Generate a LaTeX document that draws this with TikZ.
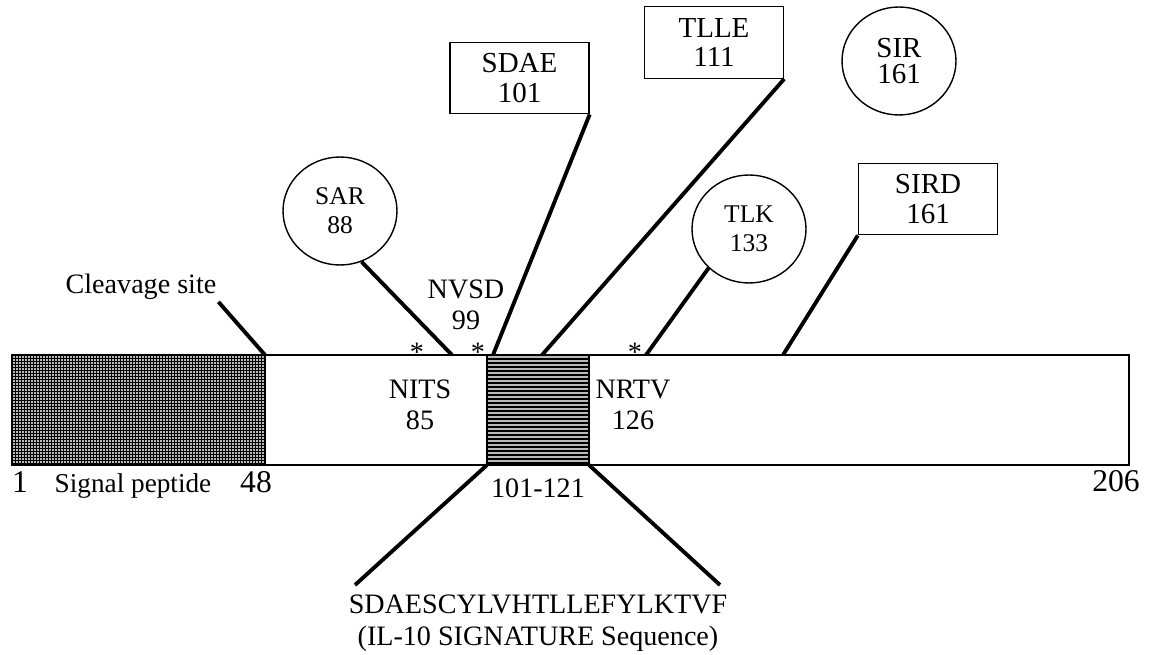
\documentclass[tikz,border=0pt]{standalone}
\usepackage{fontspec}
\setmainfont{Liberation Serif}
\usetikzlibrary{shapes.geometric}

\begin{document}
\begin{tikzpicture}[
  x=0.02cm, y=-0.02cm,
  site/.style={ellipse, draw=black, line width=0.8pt, minimum width=2.28cm,
    minimum height=2.16cm, inner sep=0pt, align=center,
    font=\fontsize{14.5}{16.5}\selectfont},
  motif/.style={rectangle, draw=black, line width=0.8pt, minimum width=2.78cm,
    minimum height=1.43cm, inner sep=0pt, align=center,
    font=\fontsize{16.5}{17}\selectfont},
  tag/.style={align=center, inner sep=1pt, font=\fontsize{16}{18}\selectfont},
  big/.style={inner sep=1pt, anchor=base, font=\fontsize{18}{20}\selectfont},
  link/.style={black, line width=2.2pt}]

  \useasboundingbox (0,0) rectangle (1150,655);

  % protein bar 1-206
  \filldraw[fill=white, draw=black, line width=0.9pt] (12,355) rectangle (1129,465);
  % signal peptide
  \fill[gray!55] (12,355) rectangle (265,465);
  \foreach \i in {15,18,...,263} \draw[line width=0.35pt] (\i,355)--(\i,465);
  \foreach \i in {358,361,...,463} \draw[line width=0.35pt] (12,\i)--(265,\i);
  \draw[line width=0.9pt] (12,355) rectangle (265,465);
  % IL-10 signature 101-121
  \fill[gray!55] (487,355) rectangle (589,465);
  \foreach \i in {359,363,...,463} \draw[line width=0.6pt] (487,\i)--(589,\i);
  \draw[line width=0.9pt] (487,355) rectangle (589,465);

  \coordinate (p48) at (265,355);
  \coordinate (p88) at (452,355);
  \coordinate (p101) at (493,355);
  \coordinate (p111) at (542,355);
  \coordinate (p133) at (646,355);
  \coordinate (p161) at (783,355);
  \coordinate (s101) at (487,465);
  \coordinate (s121) at (589,465);
  \coordinate (seqL) at (355,585);
  \coordinate (seqR) at (720,585);

  % sites above the bar
  \node[site] (sar) at (340,211) {SAR\\88};
  \node[site] (tlk) at (749,229) {TLK\\133};
  \node[site, font=\fontsize{16.5}{15}\selectfont] (sir) at (899,61) {SIR\\161};
  \node[motif] (sdae) at (519.5,78) {SDAE\\101};
  \node[motif] (tlle) at (714,42.5) {TLLE\\111};
  \node[motif] (sird) at (928,199) {SIRD\\161};

  \node[tag] (cleave) at (141,287) {Cleavage site};
  \node[tag] (nvsd) at (466,305) {NVSD\\99};
  \node[tag] (nits) at (420,405) {NITS\\85};
  \node[tag] (nrtv) at (633,405) {NRTV\\126};
  \node[tag, anchor=base] (ast1) at (417,361) {*};
  \node[tag, anchor=base] (ast2) at (478,361) {*};
  \node[tag, anchor=base] (ast3) at (635,361) {*};

  % numbering below the bar
  \node[big] (n1) at (20,492) {1};
  \node[tag, anchor=base, font=\fontsize{15.5}{16}\selectfont] (sigpep) at (133,492) {Signal peptide};
  \node[big] (n48) at (256,492) {48};
  \node[tag, anchor=base] (range) at (538,497) {101-121};
  \node[big] (n206) at (1116,491) {206};
  \node[tag] (seq) at (538,623) {SDAESCYLVHTLLEFYLKTVF\\(IL-10 SIGNATURE Sequence)};

  \draw[link] (cleave.south east) -- (p48);
  \draw[link] (sar.-67) -- (p88);
  \draw[link] (sdae.south east) -- (p101);
  \draw[link] (tlle.south east) -- (p111);
  \draw[link] (tlk.-136) -- (p133);
  \draw[link] (sird.south west) -- (p161);
  \draw[link] (s101) -- (seqL);
  \draw[link] (s121) -- (seqR);
\end{tikzpicture}
\end{document}
